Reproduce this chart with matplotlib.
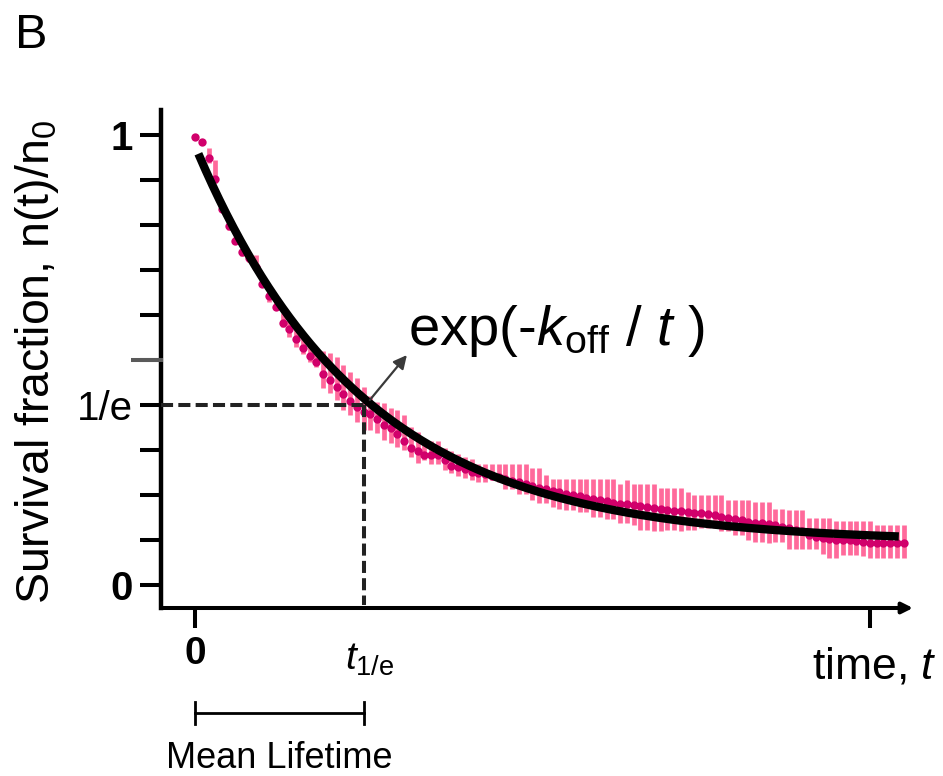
import numpy as np
import matplotlib
matplotlib.use('Agg')
import matplotlib.pyplot as plt

plt.rcParams['font.family'] = ['Liberation Sans', 'DejaVu Sans']
plt.rcParams['mathtext.fontset'] = 'custom'
plt.rcParams['mathtext.rm'] = 'Liberation Sans'
plt.rcParams['mathtext.it'] = 'Liberation Sans:italic'
plt.rcParams['mathtext.bf'] = 'Liberation Sans:bold'

# 生存分数，t = 0..105 帧
SURV = [0.995, 0.984, 0.948, 0.902, 0.835, 0.798, 0.765, 0.739, 0.726, 0.706,
        0.670, 0.643, 0.618, 0.582, 0.568, 0.546, 0.526, 0.510, 0.495, 0.470,
        0.456, 0.439, 0.424, 0.410, 0.396, 0.384, 0.379, 0.368, 0.356, 0.348,
        0.336, 0.320, 0.304, 0.297, 0.289, 0.289, 0.289, 0.278, 0.264, 0.262,
        0.257, 0.252, 0.248, 0.246, 0.242, 0.240, 0.236, 0.232, 0.228, 0.224,
        0.220, 0.216, 0.213, 0.210, 0.206, 0.203, 0.200, 0.197, 0.194, 0.191,
        0.188, 0.186, 0.183, 0.181, 0.179, 0.177, 0.175, 0.173, 0.171, 0.169,
        0.167, 0.165, 0.164, 0.162, 0.160, 0.159, 0.157, 0.155, 0.152, 0.150,
        0.147, 0.144, 0.140, 0.137, 0.137, 0.136, 0.133, 0.130, 0.126, 0.122,
        0.119, 0.111, 0.107, 0.104, 0.102, 0.100, 0.099, 0.099, 0.098, 0.096,
        0.094, 0.094, 0.094, 0.093, 0.093, 0.093]
# 误差条上下沿
ERR_HI = [0.995, 0.984, 0.971, 0.944, 0.844, 0.806, 0.773, 0.747, 0.734, 0.733,
          0.678, 0.663, 0.641, 0.604, 0.596, 0.574, 0.556, 0.541, 0.522, 0.519,
          0.515, 0.507, 0.489, 0.474, 0.459, 0.441, 0.419, 0.407, 0.404, 0.393,
          0.389, 0.378, 0.352, 0.340, 0.319, 0.319, 0.319, 0.305, 0.298, 0.292,
          0.285, 0.280, 0.270, 0.270, 0.270, 0.270, 0.269, 0.269, 0.269, 0.269,
          0.259, 0.259, 0.244, 0.235, 0.235, 0.235, 0.235, 0.235, 0.235, 0.235,
          0.235, 0.235, 0.235, 0.225, 0.233, 0.224, 0.224, 0.224, 0.224, 0.215,
          0.215, 0.215, 0.215, 0.207, 0.200, 0.200, 0.200, 0.200, 0.200, 0.190,
          0.190, 0.190, 0.190, 0.185, 0.185, 0.185, 0.168, 0.168, 0.167, 0.167,
          0.167, 0.150, 0.150, 0.150, 0.150, 0.143, 0.143, 0.143, 0.143, 0.143,
          0.143, 0.133, 0.133, 0.133, 0.133, 0.133]
ERR_LO = [0.995, 0.984, 0.937, 0.893, 0.830, 0.790, 0.757, 0.731, 0.718, 0.700,
          0.662, 0.630, 0.611, 0.574, 0.552, 0.530, 0.513, 0.496, 0.485, 0.437,
          0.426, 0.411, 0.389, 0.378, 0.363, 0.344, 0.344, 0.337, 0.322, 0.315,
          0.307, 0.300, 0.285, 0.272, 0.278, 0.270, 0.270, 0.255, 0.248, 0.242,
          0.238, 0.233, 0.230, 0.230, 0.233, 0.230, 0.213, 0.213, 0.202, 0.202,
          0.189, 0.182, 0.182, 0.174, 0.170, 0.167, 0.167, 0.163, 0.163, 0.152,
          0.152, 0.146, 0.146, 0.137, 0.137, 0.133, 0.122, 0.122, 0.119, 0.119,
          0.122, 0.122, 0.119, 0.122, 0.122, 0.126, 0.126, 0.126, 0.119, 0.119,
          0.111, 0.111, 0.100, 0.096, 0.096, 0.093, 0.096, 0.096, 0.079, 0.079,
          0.079, 0.079, 0.079, 0.069, 0.061, 0.061, 0.067, 0.067, 0.067, 0.064,
          0.059, 0.061, 0.061, 0.061, 0.061, 0.061]
T = np.arange(len(SURV))

# 拟合曲线参数  n(t)/n0 = C + A*exp(-t/tau)
FIT_A, FIT_TAU, FIT_C = 0.881, 24.7, 0.095
FIT_T0, FIT_T1 = 0.5, 104.3
T_1E = 25.0          # t_{1/e}
Y_1E = 0.4           # 1/e 刻度位置（示意）
Y_GRAY = 0.5         # 灰色长刻度

BAR_C = '#FF6A9B'
DOT_C = '#D1006B'

fig = plt.figure(figsize=(9.43, 7.76), dpi=100)
ax = fig.add_axes([161 / 943, 168 / 776, 752 / 943, 498 / 776])
ax.set_xlim(-5.04, 106.4)
ax.set_ylim(-0.0511, 1.0556)

ax.vlines(T, ERR_LO, ERR_HI, color=BAR_C, lw=3.4, capstyle='butt', zorder=1)
ax.plot(T, SURV, 'o', color=DOT_C, ms=6.0, mew=0, zorder=2)
tt = np.linspace(FIT_T0, FIT_T1, 300)
ax.plot(tt, FIT_C + FIT_A * np.exp(-tt / FIT_TAU), color='black', lw=6.0,
        solid_capstyle='butt', zorder=3)

# 1/e 虚线
ds = dict(color='#222222', lw=2.9, ls=(0, (3, 1.3)), zorder=4, clip_on=False)
ax.plot([-5.04, T_1E], [Y_1E, Y_1E], **ds)
ax.plot([T_1E, T_1E], [Y_1E, -0.045], **ds)

# 坐标轴
for s in ['top', 'right', 'bottom']:
    ax.spines[s].set_visible(False)
ax.spines['left'].set_linewidth(3.2)
ax.annotate('', xy=(1.0, 0), xytext=(0, 0), xycoords='axes fraction',
            arrowprops=dict(arrowstyle='-|>', lw=2.9, color='black',
                            mutation_scale=16, shrinkA=0, shrinkB=0))

yt = np.round(np.arange(0, 1.01, 0.1), 1)
ax.set_yticks(yt)
ylabs = ['0', '', '', '', '1/e', '', '', '', '', '', '1']
ax.set_yticklabels(ylabs, fontsize=29)
for lab in ax.get_yticklabels():
    if lab.get_text() in ('0', '1'):
        lab.set_fontweight('bold')
ax.tick_params(axis='y', direction='out', length=15, width=2.9, pad=5)
# 0.5 处灰色长刻度（覆盖在普通刻度上）
ax.plot([-0.040, 0.002], [Y_GRAY, Y_GRAY], color='#5a5a5a', lw=2.9,
        solid_capstyle='butt', transform=ax.get_yaxis_transform(),
        clip_on=False, zorder=6)

ax.set_xticks([0, 100])
ax.set_xticklabels(['0', ''], fontsize=28, fontweight='bold')
ax.tick_params(axis='x', direction='out', length=14.4, width=2.9, pad=6)

kw = dict(clip_on=False)
ax.text(22.2, -0.189, r'$t_{\rm 1/e}$', fontsize=28, ha='left', va='baseline', **kw)
ax.text(91.4, -0.207, r'time, $t$', fontsize=32, ha='left', va='baseline', **kw)

# Mean Lifetime 标尺
ax.plot([0, T_1E], [-0.284, -0.284], color='black', lw=2, **kw)
for xx in (0, T_1E):
    ax.plot([xx, xx], [-0.260, -0.308], color='black', lw=2, **kw)
ax.text(T_1E / 2, -0.407, 'Mean Lifetime', fontsize=26, ha='center', va='baseline', **kw)

# 拟合式标注
ax.text(31.6, 0.533, r'exp(-$k_{\rm off}$ / $t$ )', fontsize=40.5, ha='left', va='baseline', **kw)
ax.annotate('', xy=(31.4, 0.511), xytext=(25.9, 0.411),
            arrowprops=dict(arrowstyle='-|>', lw=1.6, color='#3a3a3a',
                            mutation_scale=20, shrinkA=0, shrinkB=0), zorder=5)

fig.text(37 / 943, 1 - 361.5 / 776, r'Survival fraction, n(t)/n$_{\rm 0}$',
         fontsize=33.5, rotation=90, ha='center', va='center')
fig.text(15 / 943, 1 - 48 / 776, 'B', fontsize=35, va='baseline')

fig.savefig('out.png', dpi=100)
